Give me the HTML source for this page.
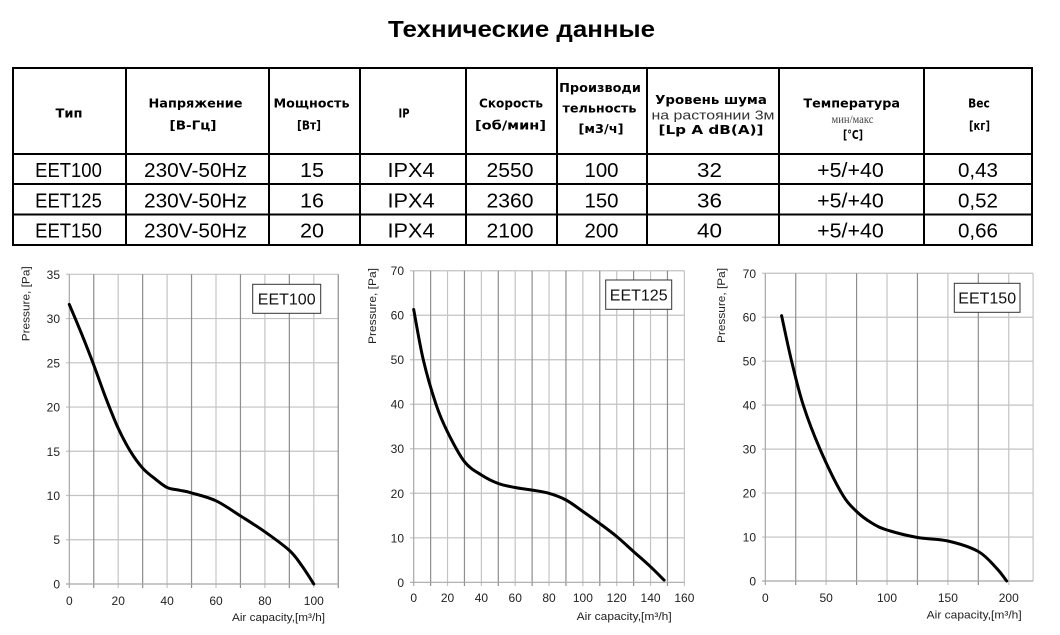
<!DOCTYPE html>
<html><head><meta charset="utf-8"><style>
html,body{margin:0;padding:0;background:#fff;}
svg{display:block;}
.h{font-family:"DejaVu Sans","Liberation Sans",sans-serif;font-weight:bold;font-size:12px;fill:#000;text-anchor:middle;}
.d{font-family:"Liberation Sans","DejaVu Sans",sans-serif;font-size:20px;fill:#000;text-anchor:middle;}
.t{font-family:"Liberation Sans",Arial,sans-serif;font-size:12px;fill:#222;}
.lg{font-family:"Liberation Sans",Arial,sans-serif;font-size:16px;fill:#111;text-anchor:middle;}
.ax{font-family:"Liberation Sans",Arial,sans-serif;font-size:11px;fill:#222;}
</style></head><body>
<svg width="1060" height="635" viewBox="0 0 1060 635" xmlns="http://www.w3.org/2000/svg">
<rect width="1060" height="635" fill="#fff"/>
<text x="521.5" y="37" font-family="Liberation Sans, DejaVu Sans, sans-serif" font-weight="bold" font-size="23" text-anchor="middle" textLength="267" lengthAdjust="spacingAndGlyphs">Технические данные</text>

<!-- table -->
<g stroke="#000" stroke-width="2" fill="none">
<rect x="13" y="68" width="1019" height="177"/>
<path d="M13 154H1032M13 184H1032M13 214.5H1032"/>
<path d="M126 68V245M269 68V245M360 68V245M466 68V245M557 68V245M647 68V245M779 68V245M924 68V245"/>
</g>
<g class="h">
<text x="69" y="117.5" textLength="27" lengthAdjust="spacingAndGlyphs">Тип</text>
<text x="195.5" y="107.5" textLength="94" lengthAdjust="spacingAndGlyphs">Напряжение</text>
<text x="193" y="129.5" textLength="47" lengthAdjust="spacingAndGlyphs">[В-Гц]</text>
<text x="311.5" y="107.5" textLength="76" lengthAdjust="spacingAndGlyphs">Мощность</text>
<text x="309" y="129.5" textLength="24" lengthAdjust="spacingAndGlyphs">[Вт]</text>
<text x="404" y="117.5" textLength="11" lengthAdjust="spacingAndGlyphs">IP</text>
<text x="511" y="107.5" textLength="64" lengthAdjust="spacingAndGlyphs">Скорость</text>
<text x="510.5" y="129.5" textLength="71" lengthAdjust="spacingAndGlyphs">[об/мин]</text>
<text x="600" y="92" textLength="81.7" lengthAdjust="spacingAndGlyphs">Производи</text>
<text x="599.5" y="112.5" textLength="74" lengthAdjust="spacingAndGlyphs">тельность</text>
<text x="601" y="133" textLength="45" lengthAdjust="spacingAndGlyphs">[м3/ч]</text>
<text x="711" y="104" textLength="111.7" lengthAdjust="spacingAndGlyphs">Уровень шума</text>
<text x="711" y="134" textLength="105" lengthAdjust="spacingAndGlyphs">[Lp A dB(A)]</text>
<text x="851.7" y="107.5" textLength="96.7" lengthAdjust="spacingAndGlyphs">Температура</text>
<text x="853" y="139" textLength="20" lengthAdjust="spacingAndGlyphs">[°C]</text>
<text x="979" y="107.5" textLength="21.7" lengthAdjust="spacingAndGlyphs">Вес</text>
<text x="979.5" y="130" textLength="21" lengthAdjust="spacingAndGlyphs">[кг]</text>
</g>
<text x="713" y="119.5" font-family="Liberation Sans, sans-serif" font-size="12.5" fill="#333" text-anchor="middle" textLength="123" lengthAdjust="spacingAndGlyphs">на растоянии 3м</text>
<text x="852.5" y="123" font-family="Liberation Serif, serif" font-size="12" fill="#444" text-anchor="middle" textLength="42" lengthAdjust="spacingAndGlyphs">мин/макс</text>

<g class="d">
<text x="68.5" y="177" textLength="66.7" lengthAdjust="spacingAndGlyphs">EET100</text>
<text x="195.5" y="177" textLength="103" lengthAdjust="spacingAndGlyphs">230V-50Hz</text>
<text x="312" y="177" textLength="24" lengthAdjust="spacingAndGlyphs">15</text>
<text x="411" y="177" textLength="47" lengthAdjust="spacingAndGlyphs">IPX4</text>
<text x="510" y="177" textLength="47" lengthAdjust="spacingAndGlyphs">2550</text>
<text x="601.5" y="177" textLength="34" lengthAdjust="spacingAndGlyphs">100</text>
<text x="709.5" y="177" textLength="25" lengthAdjust="spacingAndGlyphs">32</text>
<text x="850.5" y="177" textLength="66.7" lengthAdjust="spacingAndGlyphs">+5/+40</text>
<text x="978" y="177" textLength="40" lengthAdjust="spacingAndGlyphs">0,43</text>

<text x="68.5" y="207.5" textLength="66.7" lengthAdjust="spacingAndGlyphs">EET125</text>
<text x="195.5" y="207.5" textLength="103" lengthAdjust="spacingAndGlyphs">230V-50Hz</text>
<text x="312" y="207.5" textLength="24" lengthAdjust="spacingAndGlyphs">16</text>
<text x="411" y="207.5" textLength="47" lengthAdjust="spacingAndGlyphs">IPX4</text>
<text x="510" y="207.5" textLength="47" lengthAdjust="spacingAndGlyphs">2360</text>
<text x="601.5" y="207.5" textLength="34" lengthAdjust="spacingAndGlyphs">150</text>
<text x="709.5" y="207.5" textLength="25" lengthAdjust="spacingAndGlyphs">36</text>
<text x="850.5" y="207.5" textLength="66.7" lengthAdjust="spacingAndGlyphs">+5/+40</text>
<text x="978" y="207.5" textLength="40" lengthAdjust="spacingAndGlyphs">0,52</text>

<text x="68.5" y="237.5" textLength="66.7" lengthAdjust="spacingAndGlyphs">EET150</text>
<text x="195.5" y="237.5" textLength="103" lengthAdjust="spacingAndGlyphs">230V-50Hz</text>
<text x="312" y="237.5" textLength="24" lengthAdjust="spacingAndGlyphs">20</text>
<text x="411" y="237.5" textLength="47" lengthAdjust="spacingAndGlyphs">IPX4</text>
<text x="510" y="237.5" textLength="47" lengthAdjust="spacingAndGlyphs">2100</text>
<text x="601.5" y="237.5" textLength="34" lengthAdjust="spacingAndGlyphs">200</text>
<text x="709.5" y="237.5" textLength="25" lengthAdjust="spacingAndGlyphs">40</text>
<text x="850.5" y="237.5" textLength="66.7" lengthAdjust="spacingAndGlyphs">+5/+40</text>
<text x="978" y="237.5" textLength="40" lengthAdjust="spacingAndGlyphs">0,66</text>
</g>

<!-- ===== Chart 1 ===== -->
<g fill="none" stroke-width="1.2">
<path stroke="#c2c2c2" d="M66 274.3H338.25M66 318.56H338.25M66 362.8H338.25M66 407.04H338.25M66 451.28H338.25M66 495.52H338.25M66 539.76H338.25"/>
<path stroke="#c4c4c4" d="M118.2 274.3V588M167.1 274.3V588M216 274.3V588M264.9 274.3V588M313.8 274.3V588"/>
<path stroke="#8e8e8e" d="M93.75 274.3V588M142.65 274.3V588M191.55 274.3V588M240.45 274.3V588M289.35 274.3V588M338.25 274.3V588"/>
<path stroke="#a8a8a8" d="M66 584H338.25M69.3 274.3V588"/>
</g>
<g class="t" text-anchor="end">
<text x="60" y="278.8">35</text><text x="60" y="323">30</text><text x="60" y="367.3">25</text>
<text x="60" y="411.5">20</text><text x="60" y="455.8">15</text><text x="60" y="500">10</text>
<text x="60" y="544.2">5</text><text x="60" y="588.5">0</text>
</g>
<g class="t" text-anchor="middle">
<text x="69.3" y="605">0</text><text x="118.2" y="605">20</text><text x="167.1" y="605">40</text>
<text x="216" y="605">60</text><text x="264.9" y="605">80</text><text x="313.8" y="605">100</text>
</g>
<text class="ax" x="325" y="621" text-anchor="end" textLength="93" lengthAdjust="spacingAndGlyphs">Air capacity,[m³/h]</text>
<text class="ax" transform="translate(29.3,303.8) rotate(-90)" text-anchor="middle" font-size="11.5" textLength="75" lengthAdjust="spacingAndGlyphs">Pressure, [Pa]</text>
<rect x="252.7" y="284.3" width="68" height="29" fill="#fff" stroke="#333" stroke-width="1"/>
<text class="lg" x="286.7" y="304.5">EET100</text>
<path fill="none" stroke="#000" stroke-width="3" stroke-linecap="round" stroke-linejoin="round"
d="M69.3 304.4C71.33 309.27 77.42 323.5 81.5 333.6C85.58 343.7 89.68 354.23 93.75 365C97.82 375.77 101.82 387.65 105.9 398.2C109.98 408.75 114.12 419.45 118.2 428.3C122.28 437.15 126.32 444.67 130.4 451.3C134.48 457.93 138.57 463.53 142.65 468.1C146.73 472.67 150.82 475.47 154.9 478.7C158.98 481.93 163.03 485.58 167.1 487.5C171.17 489.42 175.22 489.3 179.3 490.2C183.38 491.1 185.43 491.13 191.55 492.9C197.67 494.67 207.85 496.97 216 500.8C224.15 504.63 232.3 510.73 240.45 515.9C248.6 521.07 256.75 526.05 264.9 531.8C273.05 537.55 283.23 544.8 289.35 550.4C295.47 556 297.52 559.8 301.6 565.4C305.68 571 311.77 580.9 313.8 584"/>

<!-- ===== Chart 2 ===== -->
<g fill="none" stroke-width="1.2">
<path stroke="#c2c2c2" d="M410 270.73H684.37M410 315.24H684.37M410 359.75H684.37M410 404.26H684.37M410 448.77H684.37M410 493.28H684.37M410 537.79H684.37"/>
<path stroke="#c4c4c4" d="M447.53 270.73V586M481.37 270.73V586M515.2 270.73V586M549.04 270.73V586M582.87 270.73V586M616.7 270.73V586M650.54 270.73V586M684.37 270.73V586"/>
<path stroke="#8e8e8e" d="M430.62 270.73V586M464.45 270.73V586M498.29 270.73V586M532.12 270.73V586M565.95 270.73V586M599.79 270.73V586M633.62 270.73V586M667.46 270.73V586"/>
<path stroke="#a8a8a8" d="M410 582.3H684.37M413.7 270.73V586"/>
</g>
<g class="t" text-anchor="end">
<text x="404" y="275.2">70</text><text x="404" y="319.7">60</text><text x="404" y="364.2">50</text>
<text x="404" y="408.7">40</text><text x="404" y="453.2">30</text><text x="404" y="497.8">20</text>
<text x="404" y="542.3">10</text><text x="404" y="586.8">0</text>
</g>
<g class="t" text-anchor="middle">
<text x="413.7" y="602">0</text><text x="447.53" y="602">20</text><text x="481.37" y="602">40</text>
<text x="515.2" y="602">60</text><text x="549.04" y="602">80</text><text x="582.87" y="602">100</text>
<text x="616.7" y="602">120</text><text x="650.54" y="602">140</text><text x="684.37" y="602">160</text>
</g>
<text class="ax" x="671.7" y="620" text-anchor="end" textLength="95" lengthAdjust="spacingAndGlyphs">Air capacity,[m³/h]</text>
<text class="ax" transform="translate(375.8,306) rotate(-90)" text-anchor="middle" font-size="11.5" textLength="76" lengthAdjust="spacingAndGlyphs">Pressure, [Pa]</text>
<rect x="605.7" y="280" width="66" height="29.3" fill="#fff" stroke="#333" stroke-width="1"/>
<text class="lg" x="638.7" y="300.5">EET125</text>
<path fill="none" stroke="#000" stroke-width="3" stroke-linecap="round" stroke-linejoin="round"
d="M413.7 309.5C415.3 317.88 419.58 344 423.3 359.8C427.02 375.6 431.97 392.28 436 404.3C440.03 416.32 442.75 422.33 447.5 431.9C452.25 441.47 458.85 454.52 464.5 461.7C470.15 468.88 475.77 471.37 481.4 475C487.03 478.63 492.67 481.42 498.3 483.5C503.93 485.58 509.57 486.4 515.2 487.5C520.83 488.6 526.47 489.13 532.1 490.1C537.73 491.07 543.35 491.65 549 493.3C554.65 494.95 560.35 496.97 566 500C571.65 503.03 577.27 507.57 582.9 511.5C588.53 515.43 594.17 519.38 599.8 523.55C605.43 527.72 611.07 531.82 616.7 536.5C622.33 541.18 627.97 546.57 633.6 551.6C639.23 556.63 645.42 561.95 650.5 566.7C655.58 571.45 661.83 577.87 664.1 580.1"/>

<!-- ===== Chart 3 ===== -->
<g fill="none" stroke-width="1.2">
<path stroke="#c2c2c2" d="M762 273.28H1033.1M762 317.24H1033.1M762 361.2H1033.1M762 405.16H1033.1M762 449.12H1033.1M762 493.08H1033.1M762 537.04H1033.1"/>
<path stroke="#c4c4c4" d="M826.16 273.28V585M887.02 273.28V585M947.88 273.28V585M1008.74 273.28V585M1033.1 273.28V581"/>
<path stroke="#8e8e8e" d="M795.73 273.28V585M856.59 273.28V585M917.45 273.28V585M978.31 273.28V585"/>
<path stroke="#a8a8a8" d="M762 581H1033.1M765.3 273.28V585"/>
</g>
<g class="t" text-anchor="end">
<text x="756" y="277.8">70</text><text x="756" y="321.7">60</text><text x="756" y="365.7">50</text>
<text x="756" y="409.7">40</text><text x="756" y="453.6">30</text><text x="756" y="497.6">20</text>
<text x="756" y="541.5">10</text><text x="756" y="585.5">0</text>
</g>
<g class="t" text-anchor="middle">
<text x="765.3" y="602">0</text><text x="826.16" y="602">50</text><text x="887.02" y="602">100</text>
<text x="947.88" y="602">150</text><text x="1008.74" y="602">200</text>
</g>
<text class="ax" x="1021.7" y="618.5" text-anchor="end" textLength="95" lengthAdjust="spacingAndGlyphs">Air capacity,[m³/h]</text>
<text class="ax" transform="translate(725.2,305.5) rotate(-90)" text-anchor="middle" font-size="11.5" textLength="75" lengthAdjust="spacingAndGlyphs">Pressure, [Pa]</text>
<rect x="954.3" y="283.3" width="65.7" height="29" fill="#fff" stroke="#333" stroke-width="1"/>
<text class="lg" x="987.2" y="303.5">EET150</text>
<path fill="none" stroke="#000" stroke-width="3" stroke-linecap="round" stroke-linejoin="round"
d="M781.6 315.7C783.27 323.28 787.98 346.28 791.6 361.2C795.22 376.12 798.57 390.55 803.3 405.2C808.03 419.85 813.62 434.45 820 449.1C826.38 463.75 835.5 482.7 841.6 493.1C847.7 503.5 851.57 506.52 856.6 511.5C861.63 516.48 866.73 519.92 871.8 523C876.87 526.08 879.38 527.58 887 530C894.62 532.42 907.35 535.67 917.5 537.5C927.65 539.33 937.77 538.67 947.9 541C958.03 543.33 970.18 546.95 978.3 551.5C986.42 556.05 991.87 563.38 996.6 568.3C1001.33 573.22 1005.02 578.88 1006.7 581"/>
</svg>
</body></html>
